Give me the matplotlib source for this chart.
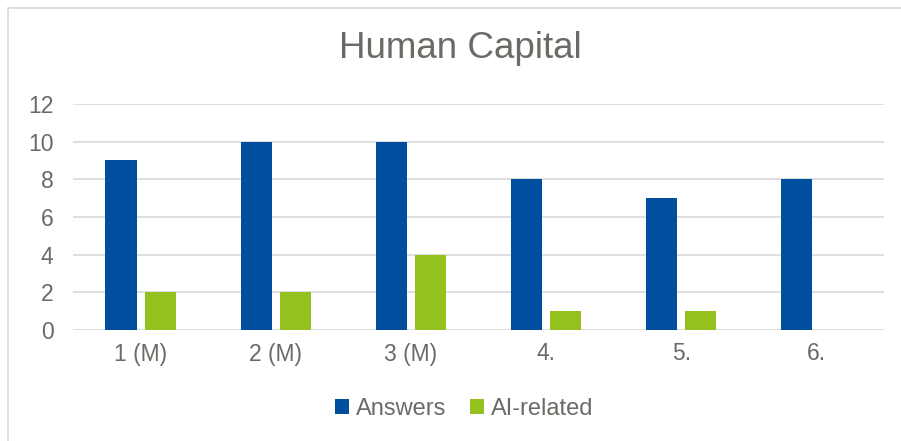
import numpy as np
import matplotlib.pyplot as plt
from matplotlib.patches import Rectangle

# Survey answers per question, and how many of those were AI-related
categories = ['1 (M)', '2 (M)', '3 (M)', '4.', '5.', '6.']
answers = [9, 10, 10, 8, 7, 8]
ai_related = [2, 2, 4, 1, 1, 0]

BLUE = '#004F9F'
GREEN = '#95C11F'
TEXT = '#6B6B66'
GRID = '#D9D9D9'

plt.rcParams['font.family'] = ['Liberation Sans', 'DejaVu Sans']

fig = plt.figure(figsize=(9.01, 4.41), dpi=100)
ax = fig.add_axes([73 / 901, 1 - 330 / 441, (884 - 73) / 901, (330 - 104) / 441])

x = np.arange(len(categories))
width = 0.23
ax.bar(x - 0.145, answers, width, color=BLUE, label='Answers', zorder=3)
ax.bar(x + 0.145, ai_related, width, color=GREEN, label='AI-related', zorder=3)

ax.set_xlim(-0.5, len(categories) - 0.5)
ax.set_ylim(0, 12)
ax.set_yticks(range(0, 13, 2))
ax.set_xticks(x)
ax.set_xticklabels(categories)
ax.yaxis.grid(True, color=GRID, linewidth=1.2, zorder=0)
ax.tick_params(length=0, labelsize=16.5, labelcolor=TEXT)
ax.tick_params(axis='y', pad=14)
ax.tick_params(axis='x', pad=9)
for s in ax.spines.values():
    s.set_visible(False)

fig.text(0.511, 1 - 49 / 441, 'Human Capital', ha='center', va='center',
         fontsize=26.5, color=TEXT)

fig.legend(loc='center', bbox_to_anchor=(464 / 901, 1 - 409 / 441), ncol=2,
           frameon=False, fontsize=17, labelcolor=TEXT,
           handlelength=0.6, handleheight=0.6, handletextpad=0.3,
           columnspacing=1.0)

# light frame around the chart area
fig.patches.append(Rectangle((8 / 901, -0.1), 1.2, 1.1 - 8 / 441,
                             transform=fig.transFigure,
                             fill=False, edgecolor=GRID, linewidth=1.2))

fig.savefig('out.png', dpi=100)
